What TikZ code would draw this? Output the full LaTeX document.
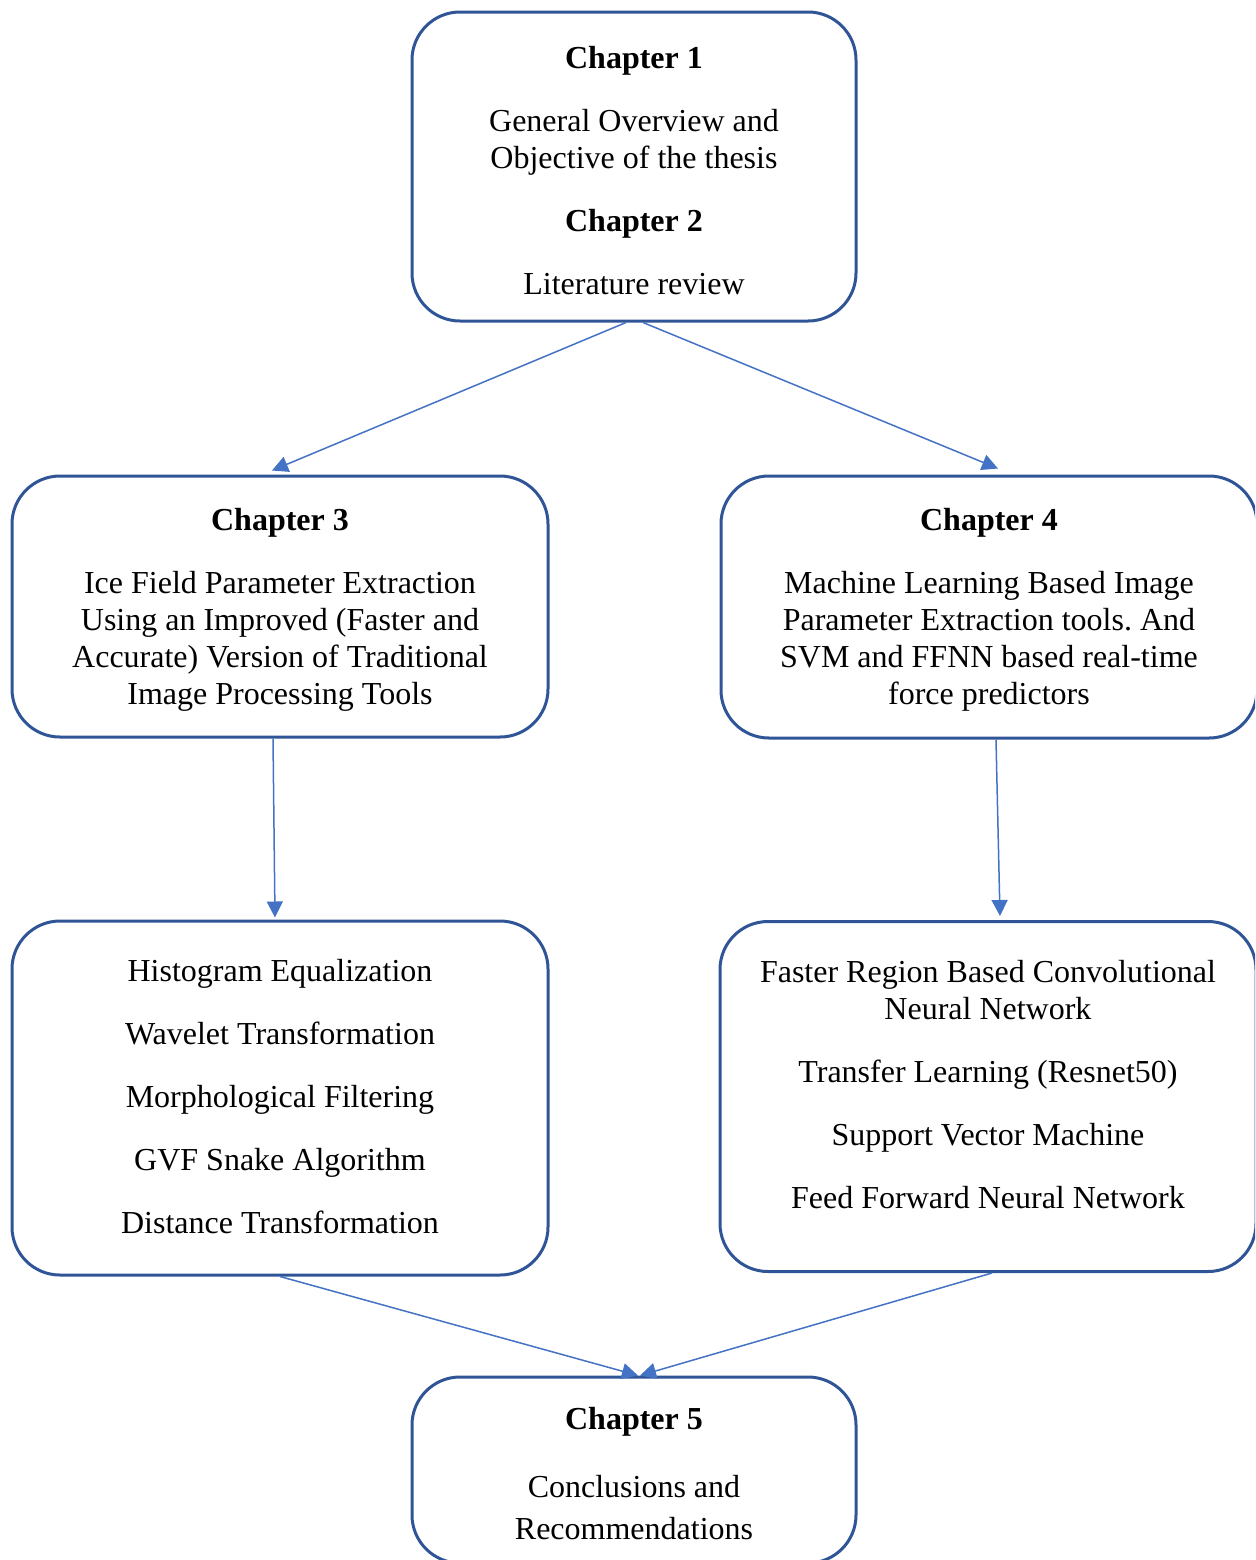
\documentclass[tikz,border=0pt]{standalone}
\usepackage{fontspec}
\setmainfont{Liberation Serif}
\usetikzlibrary{arrows.meta}
\definecolor{boxblue}{HTML}{2F5597}
\definecolor{arrblue}{HTML}{4472C4}
\begin{document}
\begin{tikzpicture}[x=0.5pt,y=-0.5pt,
    box/.style={draw=boxblue,line width=1.5pt,rounded corners=24pt,inner sep=0pt},
    txt/.style={align=center,anchor=north,inner sep=0pt,font=\fontsize{16}{18.5}\selectfont},
    arr/.style={draw=arrblue,line width=0.75pt,-{Triangle[length=8pt,width=8pt]}}]
    \useasboundingbox (0,0) rectangle (1255,1560);
    \clip (0,0) rectangle (1255,1560);
    % boxes
    \node[box,minimum width=222pt,minimum height=154.5pt] (ch1) at (634,166.5) {};
    \node[box,minimum width=268pt,minimum height=130.5pt] (ch3) at (280,606.5) {};
    \node[box,minimum width=268pt,minimum height=131pt] (ch4) at (989,607) {};
    \node[box,minimum width=268pt,minimum height=177pt] (ch3list) at (280,1098) {};
    \node[box,minimum width=268pt,minimum height=175pt] (ch4list) at (988,1096.5) {};
    \node[box,minimum width=222pt,minimum height=93pt] (ch5) at (634,1470) {};
    % texts
    \node[txt] (ch1txt) at (634,46) {\textbf{Chapter 1}\\[13pt]
        General Overview and\\Objective of the thesis\\[13pt]
        \textbf{Chapter 2}\\[13pt]Literature review};
    \node[txt] (ch3txt) at (280,508) {\textbf{Chapter 3}\\[13pt]
        Ice Field Parameter Extraction\\Using an Improved (Faster and\\
        Accurate) Version of Traditional\\Image Processing Tools};
    \node[txt] (ch4txt) at (989,508) {\textbf{Chapter 4}\\[13pt]
        Machine Learning Based Image\\Parameter Extraction tools.\ And\\
        SVM and FFNN based real-time\\force predictors};
    \node[txt] (ch3listtxt) at (280,959) {Histogram Equalization\\[13pt]
        Wavelet Transformation\\[13pt]Morphological Filtering\\[13pt]
        GVF Snake Algorithm\\[13pt]Distance Transformation};
    \node[txt] (ch4listtxt) at (988,960) {Faster Region Based Convolutional\\
        Neural Network\\[13pt]Transfer Learning (Resnet50)\\[13pt]
        Support Vector Machine\\[13pt]Feed Forward Neural Network};
    \node[txt] (ch5txt) at (634,1407) {\textbf{Chapter 5}\\[15.5pt]
        Conclusions and\\[2.5pt]Recommendations};
    % arrows
    \draw[arr] ([xshift=-4pt]ch1.south) -- ([xshift=-4pt,yshift=2pt]ch3.north);
    \draw[arr] ([xshift=4.5pt]ch1.south) -- ([xshift=4.5pt,yshift=3pt]ch4.north);
    \draw[arr] ([xshift=-3.5pt]ch3.south) -- ([xshift=-2.5pt,yshift=1pt]ch3list.north);
    \draw[arr] ([xshift=3.5pt]ch4.south) -- ([xshift=6pt,yshift=2pt]ch4list.north);
    \draw[arr] (ch3list.south) -- ([xshift=2pt]ch5.north);
    \draw[arr] ([xshift=2pt]ch4list.south) -- ([xshift=3pt]ch5.north);
\end{tikzpicture}
\end{document}
